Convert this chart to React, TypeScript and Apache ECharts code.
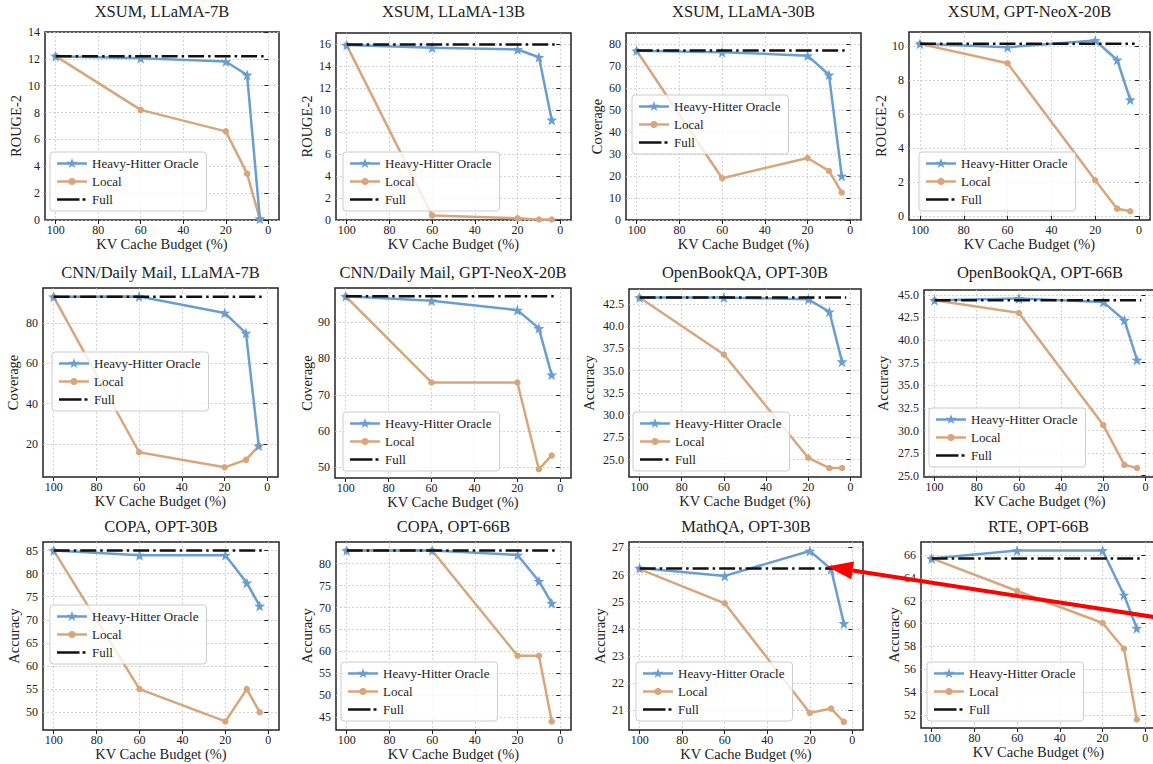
import React, { useEffect, useRef } from "react";
import * as echarts from "echarts";

// ---------- data ----------
const budgets = [100, 60, 20, 10, 4];
const fullSpan = [100, 2];
const xTicks = [0, 20, 40, 60, 80, 100];

const titles = [
  "XSUM, LLaMA-7B",
  "XSUM, LLaMA-13B",
  "XSUM, LLaMA-30B",
  "XSUM, GPT-NeoX-20B",
  "CNN/Daily Mail, LLaMA-7B",
  "CNN/Daily Mail, GPT-NeoX-20B",
  "OpenBookQA, OPT-30B",
  "OpenBookQA, OPT-66B",
  "COPA, OPT-30B",
  "COPA, OPT-66B",
  "MathQA, OPT-30B",
  "RTE, OPT-66B",
];

const yNames = [
  "ROUGE-2", "ROUGE-2", "Coverage", "ROUGE-2",
  "Coverage", "Coverage", "Accuracy", "Accuracy",
  "Accuracy", "Accuracy", "Accuracy", "Accuracy",
];

const heavyHitter = [
  [12.2, 12.05, 11.8, 10.8, 0.1],
  [15.9, 15.65, 15.5, 14.8, 9.1],
  [76.9, 76.3, 74.7, 66.0, 20.0],
  [10.15, 9.95, 10.35, 9.2, 6.85],
  [93.0, 93.2, 85.0, 75.0, 19.0],
  [97.1, 95.9, 93.3, 88.3, 75.5],
  [43.2, 43.2, 43.0, 41.6, 36.0],
  [44.4, 44.6, 44.2, 42.2, 37.8],
  [85.0, 84.0, 84.0, 78.0, 73.0],
  [83.0, 83.0, 82.0, 76.0, 71.0],
  [26.24, 25.95, 26.87, 26.2, 24.2],
  [65.7, 66.4, 66.4, 62.5, 59.6],
];

const local = [
  [12.2, 8.2, 6.6, 3.45, 0.05],
  [15.9, 0.42, 0.15, 0.05, 0.05],
  [76.9, 19.0, 28.2, 22.3, 12.5],
  [10.15, 9.0, 2.1, 0.42, 0.27],
  [93.0, 15.8, 8.3, 12.0, 19.0],
  [97.1, 73.4, 73.4, 49.5, 53.3],
  [43.2, 36.8, 25.2, 24.05, 24.05],
  [44.4, 43.0, 30.6, 26.2, 25.85],
  [85.0, 55.0, 48.0, 55.0, 50.0],
  [83.0, 83.0, 59.0, 59.0, 44.0],
  [26.2, 24.94, 20.9, 21.06, 20.57],
  [65.7, 62.85, 60.05, 57.8, 51.6],
];

const full = [12.2, 15.95, 77.0, 10.15, 93.0, 97.1, 43.2, 44.4, 85.0, 83.0, 26.22, 65.7];

const yRanges = [
  [0, 14], [0, 17], [0, 85], [-0.25, 10.85],
  [3.5, 97.4], [47.1, 99.4], [23.04, 44.16], [24.86, 45.54],
  [46.15, 86.85], [42.05, 84.95], [20.27, 27.2], [50.86, 67.14],
];

const yTicks = [
  [0, 2, 4, 6, 8, 10, 12, 14],
  [0, 2, 4, 6, 8, 10, 12, 14, 16],
  [0, 10, 20, 30, 40, 50, 60, 70, 80],
  [0, 2, 4, 6, 8, 10],
  [20, 40, 60, 80],
  [50, 60, 70, 80, 90],
  [25, 27.5, 30, 32.5, 35, 37.5, 40, 42.5],
  [25, 27.5, 30, 32.5, 35, 37.5, 40, 42.5, 45],
  [50, 55, 60, 65, 70, 75, 80, 85],
  [45, 50, 55, 60, 65, 70, 75, 80],
  [21, 22, 23, 24, 25, 26, 27],
  [52, 54, 56, 58, 60, 62, 64, 66],
];
const yDecimals = [0, 0, 0, 0, 0, 0, 1, 1, 0, 0, 0, 0];

const seriesNames = ["Heavy-Hitter Oracle", "Local", "Full"];

// ---------- layout ----------
const CANVAS_W = 1175;
const frames = [
  [45, 32, 279, 220], [336, 33, 571, 220], [626, 33, 861, 220], [909, 32, 1150, 220],
  [43, 288, 278, 477], [335, 288, 571, 478], [629, 289, 861, 477], [924, 290, 1156, 477],
  [43, 542, 279, 730], [336, 542, 571, 730], [629, 542, 863, 730], [921, 542, 1156, 728],
];
const titleTops = [3, 264, 518];
const yNameGaps = [22, 22, 22, 21, 23, 21, 33, 34, 22, 22, 22, 20];
const legendPos = [
  [50, 152], [343, 152], [632, 95], [919, 152],
  [52, 352], [343, 412], [633, 412], [929, 408],
  [50, 605], [341, 662], [636, 662], [927, 662],
];

const FONT = "Liberation Serif";
const HH_COLOR = "#6a9ed0";
const LOCAL_COLOR = "#d9a67c";
const FULL_COLOR = "#111111";

// ---------- symbol shapes ----------
function starPoints(cx: number, cy: number, R: number, r: number) {
  const pts: number[][] = [];
  for (let k = 0; k < 10; k++) {
    const ang = -Math.PI / 2 + (k * Math.PI) / 5;
    const rad = k % 2 === 0 ? R : r;
    pts.push([cx + rad * Math.cos(ang), cy + rad * Math.sin(ang)]);
  }
  return pts;
}
function circlePoints(cx: number, cy: number, R: number) {
  const pts: number[][] = [];
  for (let k = 0; k < 32; k++) {
    const ang = (k * 2 * Math.PI) / 32;
    pts.push([cx + R * Math.cos(ang), cy + R * Math.sin(ang)]);
  }
  return pts;
}
function poly(pts: number[][]) {
  return (
    "M" +
    pts.map((p) => p[0].toFixed(2) + "," + p[1].toFixed(2)).join(" L") +
    " Z"
  );
}
const STAR = "path://" + poly(starPoints(50, 52, 50, 20));
const BOUNDS = "M0,0 M300,130 ";
const LINE_RECT = "M0,52 L300,52 L300,78 L0,78 Z ";
const HH_ICON = "path://" + BOUNDS + LINE_RECT + poly(starPoints(150, 65, 56, 22));
const LOCAL_ICON = "path://" + BOUNDS + LINE_RECT + poly(circlePoints(150, 65, 36));
const FULL_ICON =
  "path://" + BOUNDS + "M0,52 L225,52 L225,78 L0,78 Z M255,52 L285,52 L285,78 L255,78 Z";

function buildOption() {
  const grid: any[] = [];
  const xAxis: any[] = [];
  const yAxis: any[] = [];
  const series: any[] = [];
  const legend: any[] = [];
  const title: any[] = [];
  const splitLine = {
    show: true,
    lineStyle: { color: "#c8c8c8", width: 0.8, type: [2, 2] },
  };

  frames.forEach((f, i) => {
    const [x0, y0, x1, y1] = f;
    grid.push({
      left: x0,
      top: y0,
      width: x1 - x0,
      height: y1 - y0,
      show: true,
      borderColor: "#222",
      borderWidth: 1.5,
      backgroundColor: "transparent",
      containLabel: false,
      outerBoundsMode: "none",
    });
    xAxis.push({
      type: "value",
      gridIndex: i,
      min: -5,
      max: 105,
      inverse: true,
      name: "KV Cache Budget (%)",
      nameLocation: "middle",
      nameGap: 16.5,
      nameMoveOverlap: false,
      nameTextStyle: { fontFamily: FONT, fontSize: 14.5, lineHeight: 15, color: "#222" },
      axisLine: { show: false },
      axisTick: { show: true, length: 4, lineStyle: { color: "#222", width: 1 }, customValues: xTicks },
      axisLabel: {
        customValues: xTicks,
        margin: 4,
        fontFamily: FONT,
        fontSize: 12,
        lineHeight: 12,
        color: "#222",
      },
      splitLine,
    });
    const dec = yDecimals[i];
    yAxis.push({
      type: "value",
      gridIndex: i,
      min: yRanges[i][0],
      max: yRanges[i][1],
      name: yNames[i],
      nameLocation: "middle",
      nameRotate: 90,
      nameGap: yNameGaps[i],
      nameMoveOverlap: false,
      nameTextStyle: { fontFamily: FONT, fontSize: 14.5, lineHeight: 15, color: "#222" },
      axisLine: { show: false },
      axisTick: { show: true, length: 4, lineStyle: { color: "#222", width: 1 }, customValues: yTicks[i] },
      axisLabel: {
        customValues: yTicks[i],
        margin: 5,
        fontFamily: FONT,
        fontSize: 12,
        lineHeight: 12,
        color: "#222",
        formatter: (v: number) => v.toFixed(dec),
      },
      splitLine,
    });
    series.push({
      type: "line",
      name: seriesNames[0],
      xAxisIndex: i,
      yAxisIndex: i,
      data: budgets.map((b, j) => [b, heavyHitter[i][j]]),
      symbol: STAR,
      symbolSize: 11,
      lineStyle: { color: HH_COLOR, width: 2.5 },
      itemStyle: { color: HH_COLOR },
      z: 3,
    });
    series.push({
      type: "line",
      name: seriesNames[1],
      xAxisIndex: i,
      yAxisIndex: i,
      data: budgets.map((b, j) => [b, local[i][j]]),
      symbol: "circle",
      symbolSize: 6.5,
      lineStyle: { color: LOCAL_COLOR, width: 2.5 },
      itemStyle: { color: LOCAL_COLOR },
      z: 2,
    });
    series.push({
      type: "line",
      name: seriesNames[2],
      xAxisIndex: i,
      yAxisIndex: i,
      data: fullSpan.map((b) => [b, full[i]]),
      symbol: "none",
      lineStyle: { color: FULL_COLOR, width: 2.5, type: [16, 4, 2.5, 4] },
      itemStyle: { color: FULL_COLOR },
      z: 4,
    });
    legend.push({
      show: true,
      data: [
        { name: seriesNames[0], icon: HH_ICON },
        { name: seriesNames[1], icon: LOCAL_ICON },
        { name: seriesNames[2], icon: FULL_ICON },
      ],
      orient: "vertical",
      left: legendPos[i][0],
      top: legendPos[i][1],
      padding: [5, 8, 5, 7],
      itemGap: 5,
      itemWidth: 30,
      itemHeight: 13,
      symbolKeepAspect: true,
      itemStyle: { borderWidth: 0 },
      backgroundColor: "rgba(255,255,255,0.8)",
      borderColor: "#cccccc",
      borderWidth: 1,
      borderRadius: 3,
      selectedMode: false,
      textStyle: { fontFamily: FONT, fontSize: 13, color: "#222" },
    });
    title.push({
      text: titles[i],
      left: (x0 + x1) / 2,
      top: titleTops[Math.floor(i / 4)],
      textAlign: "center",
      padding: 0,
      textStyle: { fontFamily: FONT, fontSize: 16.5, fontWeight: "normal", color: "#222" },
    });
  });

  // red annotation arrow
  const tip = [827, 566.5];
  const start = [1170, 619.5];
  const dx = tip[0] - start[0];
  const dy = tip[1] - start[1];
  const len = Math.sqrt(dx * dx + dy * dy);
  const ux = dx / len;
  const uy = dy / len;
  const headLen = 26;
  const headHalf = 9;
  const base = [tip[0] - ux * headLen, tip[1] - uy * headLen];
  const nx = -uy;
  const ny = ux;

  const graphic = [
    {
      type: "line",
      z: 100,
      shape: { x1: start[0], y1: start[1], x2: base[0], y2: base[1] },
      style: { stroke: "#ff0000", lineWidth: 4 },
    },
    {
      type: "polygon",
      z: 100,
      shape: {
        points: [
          [tip[0], tip[1]],
          [base[0] + nx * headHalf, base[1] + ny * headHalf],
          [base[0] - nx * headHalf, base[1] - ny * headHalf],
        ],
      },
      style: { fill: "#ff0000" },
    },
  ];

  return {
    animation: false,
    backgroundColor: "#ffffff",
    title,
    grid,
    xAxis,
    yAxis,
    series,
    legend,
    graphic,
  };
}

export default function App() {
  const ref = useRef<HTMLDivElement>(null);
  useEffect(() => {
    if (!ref.current) return;
    const chart = echarts.init(ref.current, undefined, { renderer: "svg" });
    chart.setOption(buildOption() as any);
    return () => chart.dispose();
  }, []);
  return (
    <div
      style={{
        position: "absolute",
        left: 0,
        top: 0,
        width: 1153,
        height: 764,
        overflow: "hidden",
        background: "#ffffff",
      }}
    >
      <div ref={ref} style={{ width: CANVAS_W, height: 764 }} />
    </div>
  );
}
